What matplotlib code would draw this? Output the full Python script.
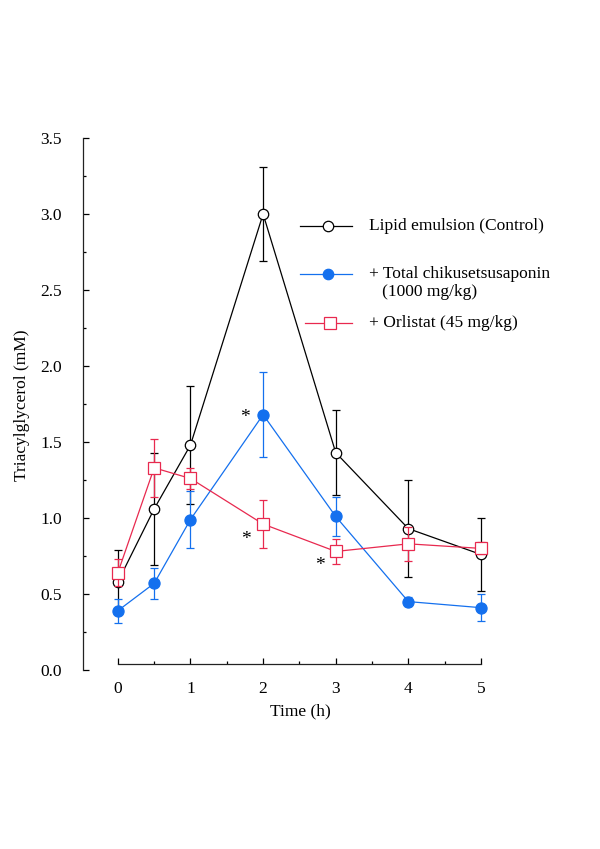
import matplotlib
matplotlib.use("Agg")
import matplotlib.pyplot as plt
from matplotlib.lines import Line2D
from matplotlib.ticker import MultipleLocator

plt.rcParams["font.family"] = ["Liberation Serif", "DejaVu Serif"]

time_h = [0, 0.5, 1, 2, 3, 4, 5]

control_mean = [0.58, 1.06, 1.48, 3.00, 1.43, 0.93, 0.76]
control_err = [0.21, 0.37, 0.39, 0.31, 0.28, 0.32, 0.24]

tcs_mean = [0.39, 0.57, 0.99, 1.68, 1.01, 0.45, 0.41]
tcs_err = [0.08, 0.10, 0.19, 0.28, 0.13, 0.03, 0.09]

orlistat_mean = [0.64, 1.33, 1.26, 0.96, 0.78, 0.83, 0.80]
orlistat_err = [0.09, 0.19, 0.07, 0.16, 0.08, 0.11, 0.04]

labels = ["Lipid emulsion (Control)",
          "+ Total chikusetsusaponin\n   (1000 mg/kg)",
          "+ Orlistat (45 mg/kg)"]

# significance marks (x, y) next to points
stars = [(1.75, 1.66), (1.77, 0.86), (2.78, 0.69)]

BLUE = "#1470ee"
RED = "#e8294f"
FS = 12.5

fig = plt.figure(figsize=(6, 8.49), dpi=100)
W, H = 600, 849
left_px, right_px = 83, 495.5
bot_px, top_px = 670, 138
ax = fig.add_axes([left_px / W, 1 - bot_px / H,
                   (right_px - left_px) / W, (bot_px - top_px) / H])
ax.set_xlim(-0.48, 5.2)
ax.set_ylim(0, 3.5)

common = dict(elinewidth=0.9, capsize=3.2, capthick=0.9, linewidth=0.9,
              clip_on=False)
ax.errorbar(time_h, control_mean, yerr=control_err, color="black",
            marker="o", ms=7.5, mfc="white", mec="black", mew=0.9,
            ecolor="black", zorder=3, **common)
ax.errorbar(time_h, tcs_mean, yerr=tcs_err, color=BLUE,
            marker="o", ms=8, mfc=BLUE, mec=BLUE, mew=0.9,
            ecolor=BLUE, zorder=4, **common)
ax.errorbar(time_h, orlistat_mean, yerr=orlistat_err, color=RED,
            marker="s", ms=8, mfc="white", mec=RED, mew=0.9,
            ecolor=RED, zorder=5, **common)

for sx, sy in stars:
    ax.text(sx, sy, "*", fontsize=14, ha="center", va="center")

# axes styling
for s in ["top", "right"]:
    ax.spines[s].set_visible(False)
ax.spines["left"].set_bounds(0, 3.5)
ax.spines["bottom"].set_position(("data", 0.04))
ax.spines["bottom"].set_bounds(0, 5)
for s in ["left", "bottom"]:
    ax.spines[s].set_linewidth(0.9)
    ax.spines[s].set_color("#222222")

ax.xaxis.set_major_locator(MultipleLocator(1))
ax.xaxis.set_minor_locator(MultipleLocator(0.5))
ax.yaxis.set_minor_locator(MultipleLocator(0.25))
ax.set_yticks([0, 0.5, 1, 1.5, 2, 2.5, 3, 3.5])
ax.set_yticklabels(["0.0", "0.5", "1.0", "1.5", "2.0", "2.5", "3.0", "3.5"])
ax.tick_params(axis="y", which="major", direction="in", length=4.5,
               width=0.9, pad=15, labelsize=FS)
ax.tick_params(axis="y", which="minor", direction="in", length=2.5, width=0.9)
ax.tick_params(axis="x", which="major", direction="in", length=4,
               width=0.9, pad=12, labelsize=FS)
ax.tick_params(axis="x", which="minor", direction="in", length=2.5, width=0.9)

fig.text(300 / W, 1 - 711 / H, "Time (h)", ha="center", va="center",
         fontsize=FS)
fig.text(22 / W, 1 - 405 / H, "Triacylglycerol (mM)", ha="center",
         va="center", rotation=90, fontsize=FS)

# legend drawn by hand
leg_rows = [
    (226, "black", "o", "white", 300, 352, 328),
    (274, BLUE, "o", BLUE, 300, 352, 328),
    (323, RED, "s", "white", 305, 352, 330),
]
for (ypx, col, mk, fc, x0, x1, xm), lab in zip(leg_rows, labels):
    yf = 1 - ypx / H
    fig.add_artist(Line2D([x0 / W, x1 / W], [yf, yf], color=col, lw=0.9))
    fig.add_artist(Line2D([xm / W], [yf], marker=mk,
                          ms=7.5 if mk == "o" else 8,
                          mfc=fc, mec=col, mew=0.9, color=col))
    lines = lab.split("\n")
    for i, part in enumerate(lines):
        fig.text(369 / W, 1 - (ypx + 18 * i) / H, part, ha="left",
                 va="center", fontsize=FS)

fig.savefig("out.png", dpi=100)
